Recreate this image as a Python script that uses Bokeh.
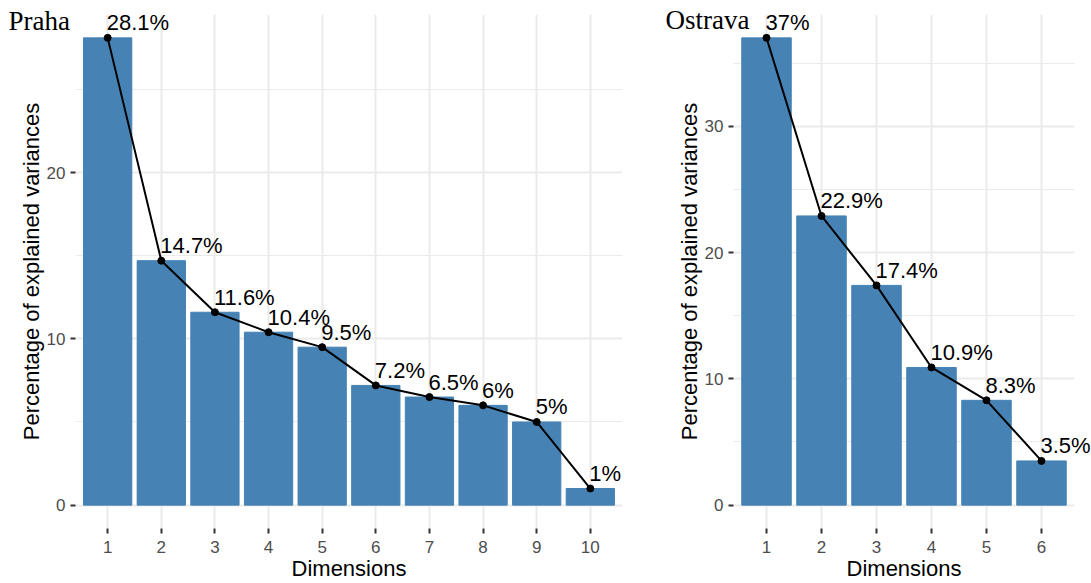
from bokeh.plotting import figure
from bokeh.layouts import row
from bokeh.models import Range1d, FixedTicker, ColumnDataSource
from bokeh.core.properties import value
from bokeh.embed import file_html
from bokeh.resources import INLINE

praha_dims = [1, 2, 3, 4, 5, 6, 7, 8, 9, 10]
praha_vals = [28.1, 14.7, 11.6, 10.4, 9.5, 7.2, 6.5, 6.0, 5.0, 1.0]
praha_ticks = [0, 10, 20]
praha_minor = [5, 15, 25]

ostrava_dims = [1, 2, 3, 4, 5, 6]
ostrava_vals = [37.0, 22.9, 17.4, 10.9, 8.3, 3.5]
ostrava_ticks = [0, 10, 20, 30]
ostrava_minor = [5, 15, 25, 35]

BAR = "#4682B4"
GRID = "#ebebeb"
SANS = "Liberation Sans"
SERIF = "Liberation Serif"


def panel(dims, vals, ticks, minor, title, width, bl, br, tdx, tdy):
    labels = [f"{v:g}%" for v in vals]
    src = ColumnDataSource(dict(x=dims, y=vals, lab=labels))
    ymax = max(vals)
    xr = Range1d(0.4, len(dims) + 0.6)
    yr = Range1d(-0.05 * ymax, 1.05 * ymax)
    p = figure(width=width, height=583, output_backend="svg", toolbar_location=None,
               x_range=xr, y_range=yr,
               min_border_left=bl, min_border_right=br,
               min_border_top=14, min_border_bottom=55)
    p.outline_line_color = None
    p.background_fill_color = "white"
    p.border_fill_color = "white"

    p.vbar(x="x", top="y", width=0.9, source=src, fill_color=BAR, line_color=BAR, line_width=1)
    p.line(x="x", y="y", source=src, line_color="black", line_width=2)
    p.scatter(x="x", y="y", source=src, size=7, fill_color="black", line_color="black")
    p.text(x="x", y="y", text="lab", source=src, text_font=value(SANS),
           text_font_size="22px", text_color="black", text_align="left",
           text_baseline="alphabetic", x_offset=-1, y_offset=-15, level="overlay")

    # panel title, anchored at the frame's top-left corner (taken from the ranges)
    p.text(x=[xr.start], y=[yr.end], text=[title], text_font=value(SERIF),
           text_font_size="27px", text_color="black", text_align="left",
           text_baseline="alphabetic", x_offset=tdx, y_offset=tdy, level="overlay")

    p.xaxis.ticker = FixedTicker(ticks=dims)
    p.yaxis.ticker = FixedTicker(ticks=ticks, minor_ticks=minor)
    for ax in (p.xaxis[0], p.yaxis[0]):
        ax.axis_line_color = None
        ax.major_tick_out = 5
        ax.major_tick_in = 0
        ax.major_tick_line_color = "#333333"
        ax.major_tick_line_width = 2
        ax.minor_tick_line_color = None
        ax.major_label_text_font = SANS
        ax.major_label_text_font_size = "17px"
        ax.major_label_text_color = "#4d4d4d"
        ax.axis_label_text_font = SANS
        ax.axis_label_text_font_size = "22px"
        ax.axis_label_text_font_style = "normal"
        ax.axis_label_text_color = "black"
    p.xaxis.axis_label = "Dimensions"
    p.yaxis.axis_label = "Percentage of explained variances"
    p.xaxis.major_label_standoff = 7
    p.xaxis.axis_label_standoff = 0
    p.yaxis.major_label_standoff = 5
    p.yaxis.axis_label_standoff = 0

    p.xgrid.grid_line_color = GRID
    p.xgrid.grid_line_width = 2
    p.ygrid.grid_line_color = GRID
    p.ygrid.grid_line_width = 2
    p.ygrid.minor_grid_line_color = GRID
    p.ygrid.minor_grid_line_width = 1
    return p


p1 = panel(praha_dims, praha_vals, praha_ticks, praha_minor, "Praha", 648, 75, 26, -67, 6)
p2 = panel(ostrava_dims, ostrava_vals, ostrava_ticks, ostrava_minor, "Ostrava", 443, 85, 17, -68, 5)

layout = row(p1, p2, spacing=0)
open("out.html", "w").write(file_html(layout, INLINE))
